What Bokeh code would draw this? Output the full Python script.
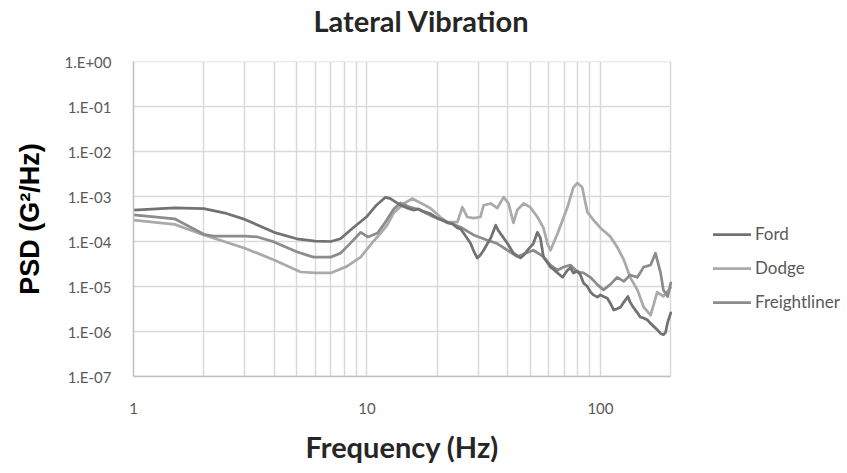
from bokeh.plotting import figure
from bokeh.models import FixedTicker, Legend, LegendItem, Title
from bokeh.embed import file_html
from bokeh.resources import INLINE

# ---------------- data ----------------
ford_freq = [1.0, 1.5, 2.0, 2.5, 3.0, 4.0, 5.0, 6.0, 7.0, 7.7, 8.7, 10.0, 11.0, 12.0, 12.6,
             13.9, 14.8, 15.8, 16.6, 17.5, 18.6, 20.0, 21.0, 22.1, 23.2, 24.4, 25.2, 26.0,
             27.8, 28.7, 29.7, 30.6, 31.6, 32.8, 33.9, 35.6, 36.4, 37.3, 38.5, 40.0, 41.2,
             42.4, 45.4, 47.0, 48.7, 50.0, 51.6, 53.7, 55.3, 57.0, 59.0, 61.1, 63.0, 65.5,
             68.8, 72.2, 74.4, 76.6, 79.7, 82.1, 84.6, 87.9, 90.6, 93.3, 97.0, 100, 103, 107,
             110, 114, 118, 122, 126, 131, 134, 138, 144, 148, 153, 159, 164, 169, 175, 181,
             186, 190, 194, 200]
ford_psd = [5.0e-4, 5.6e-4, 5.4e-4, 4.2e-4, 3.1e-4, 1.6e-4, 1.15e-4, 1.02e-4, 1.0e-4, 1.15e-4,
            2.0e-4, 3.6e-4, 6.5e-4, 9.6e-4, 9.0e-4,
            6.4e-4, 5.6e-4, 5.0e-4, 5.3e-4, 4.6e-4, 4.2e-4, 3.3e-4, 3.0e-4, 2.6e-4, 2.5e-4,
            2.0e-4, 1.9e-4, 1.5e-4, 9e-5, 6e-5, 4.3e-5, 5.0e-5, 6.4e-5, 9e-5, 1.2e-4, 2.3e-4,
            1.8e-4, 1.5e-4, 1.2e-4, 9e-5, 7e-5, 5.5e-5, 4.3e-5, 5.0e-5, 6.4e-5, 7.5e-5, 9e-5,
            1.6e-4, 1.2e-4, 4.5e-5, 3.5e-5, 2.7e-5, 2.4e-5, 2.0e-5, 1.6e-5, 2.3e-5, 2.6e-5,
            2.0e-5, 2.2e-5, 1.8e-5, 1.2e-5, 1.0e-5, 7.5e-6, 6.5e-6, 5.8e-6, 6.5e-6, 6.0e-6,
            5.5e-6, 4.3e-6, 3.0e-6, 3.2e-6, 3.5e-6, 4.5e-6, 6.0e-6, 4.5e-6, 3.5e-6, 2.6e-6,
            2.1e-6, 2.0e-6, 1.8e-6, 1.5e-6, 1.3e-6, 1.1e-6, 9e-7, 8.5e-7, 9.5e-7, 1.6e-6, 2.6e-6]

dodge_freq = [1.0, 1.5, 2.0, 3.0, 4.0, 5.2, 6.0, 7.0, 8.2, 9.4, 10.6, 11.4, 12.2, 13.0, 14.4,
              15.6, 16.9, 18.7, 20.6, 22.1, 24.4, 25.6, 26.9, 28.6, 30.6, 31.6, 33.9, 36.1,
              38.5, 40.4, 42.4, 44.0, 46.9, 50.0, 53.7, 57.0, 59.3, 61.1, 65.5, 72.2, 76.6,
              79.7, 83.5, 87.9, 93.3, 100, 110, 118, 126, 134, 144, 153, 164, 175, 186, 200]
dodge_psd = [3.0e-4, 2.4e-4, 1.4e-4, 7.1e-5, 3.9e-5, 2.1e-5, 2.0e-5, 2.0e-5, 2.8e-5, 4.5e-5,
             9.8e-5, 1.5e-4, 2.3e-4, 4.3e-4, 7.0e-4, 9.0e-4, 7.3e-4, 5.5e-4, 3.5e-4, 2.7e-4,
             2.7e-4, 5.8e-4, 3.5e-4, 3.3e-4, 3.5e-4, 6.4e-4, 7.0e-4, 5.5e-4, 9.7e-4, 7.0e-4,
             2.6e-4, 5.0e-4, 7.0e-4, 5.8e-4, 3.5e-4, 2.0e-4, 9e-5, 6.4e-5, 1.5e-4, 5.8e-4,
             1.6e-3, 2.0e-3, 1.6e-3, 4.5e-4, 3.0e-4, 2.0e-4, 1.3e-4, 7.5e-5, 3.9e-5, 1.6e-5,
             8.4e-6, 3.5e-6, 2.3e-6, 7.5e-6, 6.0e-6, 9.5e-6]

freight_freq = [1.0, 1.5, 2.0, 2.2, 3.0, 3.4, 4.0, 5.0, 5.9, 7.0, 7.7, 8.5, 9.4, 10.1, 11.1,
                12.0, 13.0, 13.9, 15.3, 16.9, 19.3, 22.1, 25.1, 28.6, 32.8, 36.1, 40.0, 44.0,
                46.9, 51.6, 57.0, 61.1, 65.5, 69.5, 74.4, 79.7, 84.6, 90.6, 97.0, 103, 110,
                118, 126, 134, 144, 153, 164, 172, 181, 186, 194, 200]
freight_psd = [3.9e-4, 3.2e-4, 1.45e-4, 1.32e-4, 1.32e-4, 1.26e-4, 9.8e-5, 5.9e-5, 4.5e-5,
               4.5e-5, 5.5e-5, 9.2e-5, 1.6e-4, 1.26e-4, 1.55e-4, 2.7e-4, 5.2e-4, 7.2e-4,
               5.8e-4, 5.0e-4, 3.5e-4, 2.7e-4, 2.1e-4, 1.4e-4, 1.07e-4, 9e-5, 6.4e-5, 4.6e-5,
               5.3e-5, 6.4e-5, 4.6e-5, 3.0e-5, 2.3e-5, 2.7e-5, 3.0e-5, 2.1e-5, 2.0e-5, 1.6e-5,
               1.1e-5, 8.4e-6, 1.1e-5, 1.6e-5, 1.3e-5, 1.8e-5, 1.6e-5, 2.7e-5, 3.0e-5, 5.5e-5,
               2.0e-5, 8.4e-6, 6.0e-6, 1.2e-5]

series_names = ["Ford", "Dodge", "Freightliner"]

y_ticks = [1e-7, 1e-6, 1e-5, 1e-4, 1e-3, 1e-2, 1e-1, 1.0]
y_tick_labels = ["1.E-07", "1.E-06", "1.E-05", "1.E-04", "1.E-03", "1.E-02", "1.E-01", "1.E+00"]
x_ticks = [1, 10, 100]
x_tick_labels = ["1", "10", "100"]
x_grid_minor = [2, 3, 4, 5, 6, 7, 8, 9, 20, 30, 40, 50, 60, 70, 80, 90, 200]
x_min, x_max = 1, 200          # data extent of the chart area
y_min, y_max = 1e-7, 1.0

# ---------------- figure ----------------
# The frame runs to the right edge so the legend (outside the chart area in the
# reference) can sit inside it; the chart area itself ends at x_max = 200.
X_VIEW_END = 1143
FONT = "Lato"
p = figure(width=847, height=473, x_axis_type="log", y_axis_type="log",
           x_range=(x_min, X_VIEW_END), y_range=(y_min, y_max), title=None,
           output_backend="svg", toolbar_location=None,
           min_border_left=133, min_border_right=0, min_border_top=61, min_border_bottom=96,
           background_fill_color="white", border_fill_color="white")
p.outline_line_color = None

# spacer between frame and title, then the title itself
p.add_layout(Title(text=" ", text_font_size="1px", standoff=21), "above")
p.add_layout(Title(text="Lateral Vibration", text_font=FONT, text_font_size="29px",
                   text_font_style="bold", text_color="#262626", align="left",
                   offset=180, standoff=0), "above")

grid_color = "#d9d9d9"
# x axis
p.xaxis.ticker = FixedTicker(ticks=x_ticks, minor_ticks=x_grid_minor)
p.xaxis.major_label_overrides = dict(zip(x_ticks, x_tick_labels))
p.xaxis.bounds = (x_min, x_max)
p.xaxis.major_label_standoff = 20
p.add_layout(Title(text="Frequency (Hz)", text_font=FONT, text_font_size="29px",
                   text_font_style="bold", text_color="#262626", align="left",
                   offset=172, standoff=20), "below")

# y axis
p.yaxis.ticker = FixedTicker(ticks=y_ticks)
p.yaxis.major_label_overrides = dict(zip(y_ticks, y_tick_labels))
p.yaxis.axis_label = "PSD (G²/Hz)"
p.yaxis.axis_label_text_font = "Liberation Sans"
p.yaxis.axis_label_text_font_size = "27px"
p.yaxis.axis_label_text_font_style = "bold"
p.yaxis.axis_label_text_color = "#000000"
p.yaxis.axis_label_standoff = 16
p.yaxis.major_label_standoff = 16

for ax in (p.xaxis, p.yaxis):
    ax.major_label_text_font = FONT
    ax.major_label_text_font_size = "15px"
    ax.major_label_text_color = "#595959"
    ax.major_tick_line_color = None
    ax.minor_tick_line_color = None
    ax.axis_line_color = "#bfbfbf"
    ax.axis_line_width = 1.5

# vertical grid (major + minor), only up to 200 Hz
p.xgrid.grid_line_color = grid_color
p.xgrid.grid_line_width = 1.5
p.xgrid.minor_grid_line_color = grid_color
p.xgrid.minor_grid_line_width = 1.5
# horizontal grid lines limited to the chart area
p.ygrid.grid_line_color = None
p.segment(x0=[x_min] * len(y_ticks), x1=[x_max] * len(y_ticks), y0=y_ticks, y1=y_ticks,
          line_color=grid_color, line_width=1.5, level="underlay")

# ---------------- lines ----------------
colors = {"Ford": "#727272", "Dodge": "#aaaaaa", "Freightliner": "#8c8c8c"}
data = {"Ford": (ford_freq, ford_psd), "Dodge": (dodge_freq, dodge_psd),
        "Freightliner": (freight_freq, freight_psd)}
renderers = {}
for name in ["Dodge", "Freightliner", "Ford"]:
    fx, fy = data[name]
    renderers[name] = p.line(fx, fy, line_color=colors[name], line_width=2.75,
                             line_join="round", line_cap="round")

legend = Legend(items=[LegendItem(label=n, renderers=[renderers[n]]) for n in series_names],
                location=(580, 64), orientation="vertical",
                padding=0, spacing=13, glyph_width=38, glyph_height=20, label_height=20,
                label_standoff=4, border_line_color=None, background_fill_alpha=0,
                label_text_font=FONT, label_text_font_size="17px", label_text_color="#595959")
p.add_layout(legend, "center")

open("out.html", "w").write(file_html(p, INLINE))
